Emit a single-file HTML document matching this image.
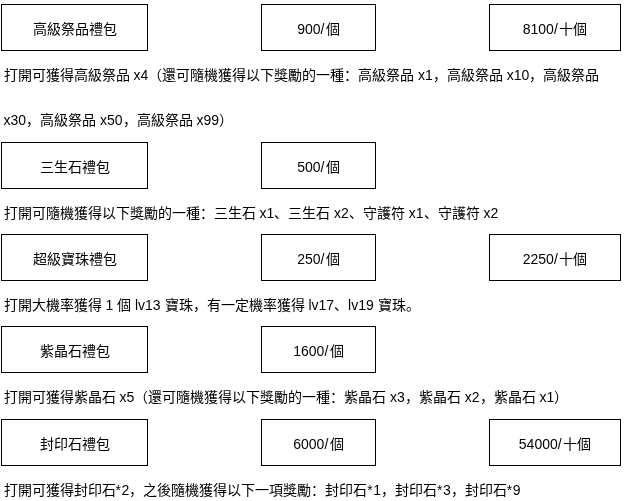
<!DOCTYPE html>
<html lang="zh-CN"><head><meta charset="utf-8">
<style>
html,body{margin:0;padding:0;background:#fff;}
body{will-change:transform;width:625px;height:501px;overflow:hidden;position:relative;font-family:"Liberation Sans",sans-serif;font-size:14px;color:#000;}
.b{position:absolute;box-sizing:border-box;border:1px solid #000;height:47px;line-height:45px;padding-top:1.5px;text-align:center;white-space:nowrap;}
.t{position:absolute;left:3.5px;white-space:nowrap;line-height:20px;}
.s{font-style:normal;letter-spacing:1.5px}
.a{font-style:normal;letter-spacing:0.5px}
</style></head><body>
<div class="b" style="left:1px;top:4px;width:147px">高級祭品禮包</div>
<div class="b" style="left:261px;top:4px;width:115px">900<i class="s">/</i>個</div>
<div class="b" style="left:489px;top:4px;width:132px">8100<i class="s">/</i>十個</div>
<div class="t" style="top:65px">打開可獲得高級祭品 x4（還可隨機獲得以下獎勵的一種：高級祭品 x1，高級祭品 x10，高級祭品</div>
<div class="t" style="top:110px">x30，高級祭品 x50，高級祭品 x99）</div>

<div class="b" style="left:1px;top:142px;width:147px">三生石禮包</div>
<div class="b" style="left:261px;top:142px;width:115px">500<i class="s">/</i>個</div>
<div class="t" style="top:203px">打開可隨機獲得以下獎勵的一種：三生石 x1、三生石 x2、守護符 x1、守護符 x2</div>

<div class="b" style="left:1px;top:234px;width:147px">超級寶珠禮包</div>
<div class="b" style="left:261px;top:234px;width:115px">250<i class="s">/</i>個</div>
<div class="b" style="left:489px;top:234px;width:132px">2250<i class="s">/</i>十個</div>
<div class="t" style="top:295px">打開大機率獲得 1 個 lv13 寶珠，有一定機率獲得 lv17、lv19 寶珠。</div>

<div class="b" style="left:1px;top:326px;width:147px">紫晶石禮包</div>
<div class="b" style="left:261px;top:326px;width:115px">1600<i class="s">/</i>個</div>
<div class="t" style="top:387px">打開可獲得紫晶石 x5（還可隨機獲得以下獎勵的一種：紫晶石 x3，紫晶石 x2，紫晶石 x1）</div>

<div class="b" style="left:1px;top:419px;width:147px">封印石禮包</div>
<div class="b" style="left:261px;top:419px;width:115px">6000<i class="s">/</i>個</div>
<div class="b" style="left:489px;top:419px;width:132px">54000<i class="s">/</i>十個</div>
<div class="t" style="top:480px">打開可獲得封印石<i class="a">*</i>2，之後隨機獲得以下一項獎勵：封印石<i class="a">*</i>1，封印石<i class="a">*</i>3，封印石<i class="a">*</i>9</div>
</body></html>
